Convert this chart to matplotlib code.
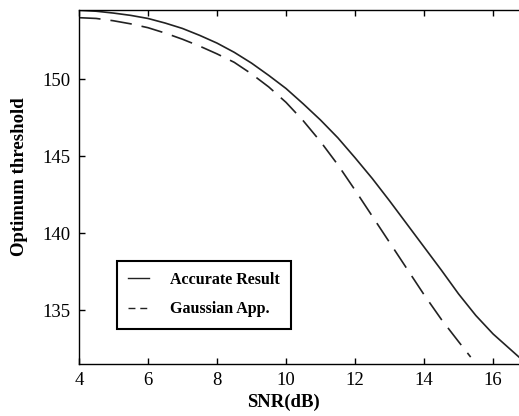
import matplotlib
matplotlib.use("Agg")
import matplotlib.pyplot as plt
from matplotlib.lines import Line2D

# optimum threshold vs SNR, exact result and gaussian approximation
snr_exact = [4, 4.5, 5, 5.5, 6, 6.5, 7, 7.5, 8, 8.5, 9, 9.5, 10, 10.5, 11,
             11.5, 12, 12.5, 13, 13.5, 14, 14.5, 15, 15.5, 16, 16.5, 16.75]
thr_exact = [154.48, 154.42, 154.3, 154.15, 153.95, 153.65, 153.3, 152.85,
             152.35, 151.75, 151.05, 150.25, 149.4, 148.4, 147.35, 146.2,
             144.9, 143.55, 142.1, 140.6, 139.1, 137.6, 136.05, 134.65,
             133.45, 132.45, 131.95]

snr_gauss = [4, 4.5, 5, 5.5, 6, 6.5, 7, 7.5, 8, 8.5, 9, 9.5, 10, 10.5, 11,
             11.5, 12, 12.5, 13, 13.5, 14, 14.5, 15, 15.35]
thr_gauss = [154.0, 153.95, 153.8, 153.6, 153.35, 153.0, 152.6, 152.15,
             151.65, 151.1, 150.35, 149.5, 148.5, 147.3, 145.95, 144.45,
             142.8, 141.1, 139.4, 137.7, 136.0, 134.4, 132.95, 131.95]

x_ticks = [4, 6, 8, 10, 12, 14, 16]
y_ticks = [135, 140, 145, 150]

serif = ["Liberation Serif", "DejaVu Serif"]
plt.rcParams["font.family"] = serif

fig = plt.figure(figsize=(5.19, 4.16), dpi=100)
ax = fig.add_axes([0.152, 0.125, 0.848, 0.851])

line_color = "#222222"
ax.plot(snr_exact, thr_exact, color=line_color, lw=1.2)
ax.plot(snr_gauss, thr_gauss, color=line_color, lw=1.2, linestyle=(0, (13, 6)))

ax.set_xlim(4, 16.75)
ax.set_ylim(131.5, 154.5)
ax.set_xticks(x_ticks)
ax.set_yticks(y_ticks)
ax.tick_params(direction="in", length=4, width=1, labelsize=13.5,
               top=True, right=False, pad=6)

ax.spines["right"].set_visible(False)
for side in ("left", "bottom", "top"):
    ax.spines[side].set_linewidth(1.0)

ax.set_xlabel("SNR(dB)", fontsize=13.5, fontweight="bold")
ax.xaxis.set_label_coords(0.465, -0.085)
ax.set_ylabel("Optimum threshold", fontsize=13.5, fontweight="bold")
ax.yaxis.set_label_coords(-0.115, 0.528)

handles = [
    Line2D([], [], color=line_color, lw=1.0),
    Line2D([], [], color=line_color, lw=1.0, linestyle=(0, (5, 3.5))),
]
leg = ax.legend(handles, ["Accurate Result", "Gaussian App."],
                loc="lower left", bbox_to_anchor=(0.086, 0.1),
                prop={"family": serif, "weight": "bold", "size": 11.5},
                fancybox=False, framealpha=1, edgecolor="black",
                handlelength=1.3, handletextpad=1.35, labelspacing=0.85,
                borderpad=0.7, borderaxespad=0)
leg.get_frame().set_linewidth(1.5)

fig.savefig("out.png", dpi=100)
